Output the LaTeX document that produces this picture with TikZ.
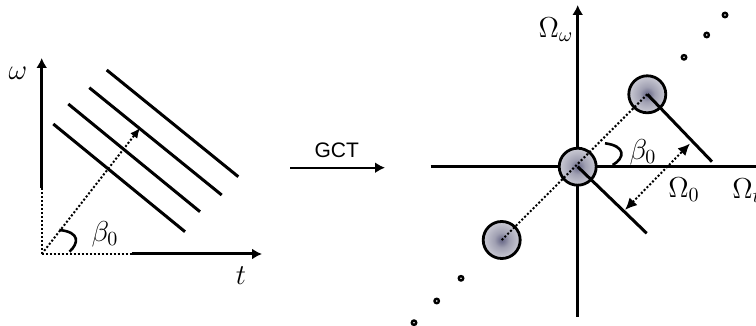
\documentclass[tikz,border=0pt]{standalone}
\usepackage{fontspec}
\newfontfamily\labelsans{Liberation Sans}
\usetikzlibrary{arrows.meta}
\definecolor{blobcore}{RGB}{100,100,132}
\definecolor{blobinner}{RGB}{160,160,178}
\definecolor{blobmid}{RGB}{212,212,220}
\definecolor{blobrim}{RGB}{238,238,240}
\pgfdeclareradialshading{blobshade}{\pgfpoint{0bp}{0bp}}{%
  color(0bp)=(blobcore); color(10bp)=(blobinner); color(28bp)=(blobmid); color(50bp)=(blobrim)}
\tikzset{
  axis/.style={line width=1.5pt, -{Latex[length=5pt,width=5.5pt]}},
  bar/.style={line width=1.5pt},
  dotline/.style={line width=1pt, dash pattern=on 1pt off 1pt},
  dotarrow/.style={dotline, -{Latex[length=5pt,width=4.5pt]}},
  dotboth/.style={dotline, {Latex[length=6pt,width=5.5pt]}-{Latex[length=6pt,width=5.5pt]}},
  anglemark/.style={line width=1.3pt},
  blob/.style={circle, draw, line width=1.4pt, minimum size=18.5pt, inner sep=0pt,
    shading=blobshade},
  speck/.style={circle, draw, line width=1.2pt, minimum size=2.2pt, inner sep=0pt, fill=white},
  mathlbl/.style={font=\fontsize{14}{16}\selectfont, inner sep=0pt},
  sanslbl/.style={font=\labelsans\fontsize{10.5}{12}\selectfont, inner sep=0pt},
}
\begin{document}
\begin{tikzpicture}[x=0.5pt, y=-0.5pt]
\useasboundingbox (0,0) rectangle (756,326);

% ---- time-frequency plane ----
\coordinate (O) at (41.7,254);
\coordinate (wbreak) at (41.7,188);
\coordinate (wtip) at (41.7,58);
\coordinate (tbreak) at (131.7,254);
\coordinate (ttip) at (262,254);
\draw[dotline] (O) -- (wbreak);
\draw[axis] (wbreak) -- (wtip);
\draw[dotline] (O) -- (tbreak);
\draw[axis] (tbreak) -- (ttip);

% parallel chirp lines
\coordinate (a1) at (106.7,70);   \coordinate (b1) at (238.3,176.7);
\coordinate (a2) at (89.3,87.7);  \coordinate (b2) at (221.7,195);
\coordinate (a3) at (68.3,104);   \coordinate (b3) at (200,211.7);
\coordinate (a4) at (53.3,124);   \coordinate (b4) at (185,231.7);
\foreach \i in {1,...,4} \draw[bar] (a\i) -- (b\i);

% direction normal to the lines
\coordinate (beam) at (140,128);
\draw[dotarrow] (O) -- (beam);
\draw[anglemark] (59.3,230) .. controls (80,232) and (79,243) .. (69.5,251.7);

\node[mathlbl] (wlab) at (18,73) {$\omega$};
\node[mathlbl] (tlab) at (241,276) {$t$};
\node[mathlbl] (blab) at (105,234) {$\beta_0$};

% ---- transform arrow ----
\coordinate (gs) at (290,167.7);
\coordinate (ge) at (385,167.7);
\draw[line width=1.1pt, -{Latex[length=5pt,width=5.5pt]}] (gs) -- (ge);
\node[sanslbl] (gct) at (336.7,150) {GCT};

% ---- transform plane ----
\coordinate (vb) at (577.7,316.7);
\coordinate (vt) at (577.7,5);
\coordinate (hl) at (430.7,166.7);
\coordinate (hr) at (766,166.7);
\draw[axis] (vb) -- (vt);
\draw[axis] (hl) -- (hr);

\node[blob] (mid) at (577.7,166.7) {};
\node[blob] (hi) at (647.3,94.3) {};
\node[blob] (lo) at (501.7,240) {};

\draw[dotline] (lo.center) -- (hi.center);

\coordinate (hiend) at (712,161.7);
\coordinate (midend) at (646.7,233.3);
\draw[bar] (hi.center) -- (hiend);
\draw[bar] (mid.center) -- (midend);

\coordinate (d1) at (625,210);
\coordinate (d2) at (690,143.5);
\draw[dotboth] (d1) -- (d2);

\draw[anglemark] (605,143.3) .. controls (626,146) and (625,158) .. (612.7,165);

\foreach \p/\n in {(684,57.3)/s1,(706.7,35)/s2,(725,15)/s3,(461,278.3)/s4,(436.7,301)/s5,(414,322.7)/s6}
  \node[speck] (\n) at \p {};

\node[mathlbl] (bwlab) at (643,152) {$\beta_0$};
\node[mathlbl] (olab) at (684,190) {$\Omega_0$};
\node[mathlbl] (owlab) at (556,30) {$\Omega_\omega$};
\node[mathlbl, anchor=west] (otlab) at (732,191) {$\Omega_t$};
\end{tikzpicture}
\end{document}
